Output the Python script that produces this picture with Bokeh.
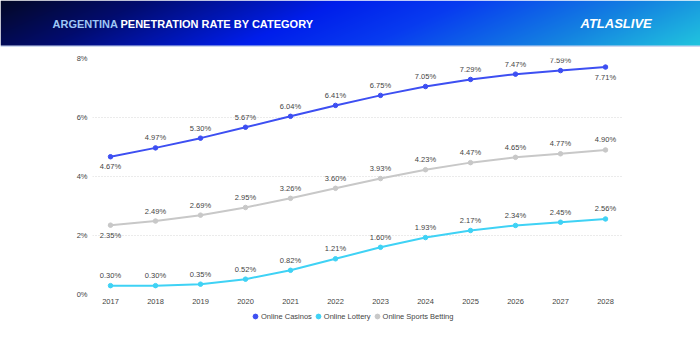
import numpy as np
from bokeh.plotting import figure
from bokeh.models import (ColumnDataSource, Range1d, FixedTicker, PrintfTickFormatter,
                          Legend, LegendItem)
from bokeh.layouts import column
from bokeh.embed import file_html
from bokeh.resources import INLINE
from bokeh.core.properties import value

# ---------------- data ----------------
years = [2017, 2018, 2019, 2020, 2021, 2022, 2023, 2024, 2025, 2026, 2027, 2028]
online_casinos = [4.67, 4.97, 5.30, 5.67, 6.04, 6.41, 6.75, 7.05, 7.29, 7.47, 7.59, 7.71]
online_lottery = [0.30, 0.30, 0.35, 0.52, 0.82, 1.21, 1.60, 1.93, 2.17, 2.34, 2.45, 2.56]
online_sports_betting = [2.35, 2.49, 2.69, 2.95, 3.26, 3.60, 3.93, 4.23, 4.47, 4.65, 4.77, 4.90]
series_names = ["Online Casinos", "Online Lottery", "Online Sports Betting"]
y_ticks = [0, 2, 4, 6, 8]
title_country = "ARGENTINA"
title_rest = "PENETRATION RATE BY CATEGORY"
brand = "ATLASLIVE"

# ---------------- style ----------------
series_colors = ["#3d4ff2", "#3fd2f5", "#c8c8c8"]
labels_below_years = {"Online Casinos": [2017, 2028], "Online Lottery": [],
                      "Online Sports Betting": [2017]}
FONT = "Liberation Sans"
TXT = "#444444"

# ---------------- header ----------------
HW, HH = 700, 47
hdr = figure(width=HW, height=HH, x_range=Range1d(0, HW), y_range=Range1d(0, HH),
             toolbar_location=None, output_backend="svg", min_border=0,
             x_axis_type=None, y_axis_type=None)
hdr.grid.visible = False
hdr.outline_line_color = None
hdr.frame_align = False

xs = np.arange(HW)[None, :] / HW
ys_top = (HH - 1 - np.arange(HH))[:, None] / HH  # 0 at top row
t = (xs + 0.15 * ys_top) / 1.15
stops = [0.0, 0.18, 0.42, 0.58, 0.8, 1.0]
r_st = [4, 2, 0, 8, 20, 34]
g_st = [8, 12, 30, 60, 130, 200]
b_st = [38, 110, 235, 240, 225, 222]
img = np.zeros((HH, HW), dtype=np.uint32)
view = img.view(dtype=np.uint8).reshape((HH, HW, 4))
view[:, :, 0] = np.interp(t, stops, r_st).astype(np.uint8)
view[:, :, 1] = np.interp(t, stops, g_st).astype(np.uint8)
view[:, :, 2] = np.interp(t, stops, b_st).astype(np.uint8)
view[:, :, 3] = 255
view[0:2, :, 0] = 205
view[0:2, :, 1] = 216
view[0:2, :, 2] = 240
hdr.image_rgba(image=[img], x=0, y=0, dw=HW, dh=HH)

hdr.text(x=[52], y=[24], text=[title_country], text_font=value(FONT),
         text_font_size="11px", text_font_style="bold", text_color="#9ec6f5",
         text_baseline="middle", text_align="left")
hdr.text(x=[120], y=[24], text=[title_rest], text_font=value(FONT),
         text_font_size="11px", text_font_style="bold", text_color="#ffffff",
         text_baseline="middle", text_align="left")
hdr.text(x=[580], y=[24], text=[brand], text_font=value(FONT),
         text_font_size="13px", text_font_style="bold italic", text_color="#ffffff",
         text_baseline="middle", text_align="left")

# ---------------- chart ----------------
CH = 261
p = figure(width=700, height=CH,
           x_range=Range1d(2016.6, 2016.6 + 530 / 45), y_range=Range1d(0, 8),
           toolbar_location=None, output_backend="svg",
           min_border_left=92, min_border_right=78, min_border_top=11, min_border_bottom=14)
p.frame_align = False
p.outline_line_color = None
p.xgrid.visible = False
p.ygrid.ticker = FixedTicker(ticks=y_ticks)
p.ygrid.grid_line_color = "#d6d6d6"
p.ygrid.grid_line_dash = "1 2"
p.yaxis.ticker = FixedTicker(ticks=y_ticks)
p.yaxis.formatter = PrintfTickFormatter(format="%d%%")
p.xaxis.ticker = FixedTicker(ticks=years)
for ax in (p.xaxis, p.yaxis):
    ax.axis_line_color = None
    ax.major_tick_line_color = None
    ax.minor_tick_line_color = None
    ax.major_tick_out = 0
    ax.major_tick_in = 0
    ax.major_label_text_font = FONT
    ax.major_label_text_font_size = "7.5px"
    ax.major_label_text_color = TXT
p.xaxis.major_label_standoff = 4
p.yaxis.major_label_standoff = 5

# ---------------- legend strip ----------------
LH = 350 - HH - CH
lf = figure(width=700, height=LH, x_range=Range1d(0, 700), y_range=Range1d(0, LH),
            toolbar_location=None, output_backend="svg", min_border=0,
            x_axis_type=None, y_axis_type=None)
lf.grid.visible = False
lf.outline_line_color = None
lf.frame_align = False

legend_items = []
for name, vals, col in zip(series_names,
                           [online_casinos, online_lottery, online_sports_betting],
                           series_colors):
    below = labels_below_years[name]
    src = ColumnDataSource(dict(
        x=years, y=vals,
        label=[f"{v:.2f}%" for v in vals],
        yoff=[10 if yr in below else -10 for yr in years],
    ))
    p.line("x", "y", source=src, line_color=col, line_width=2)
    p.scatter("x", "y", source=src, size=4.5, fill_color=col, line_color=col)
    p.text("x", "y", text="label", source=src, y_offset="yoff",
           text_font=value(FONT), text_font_size="7.5px", text_color=TXT,
           text_align="center", text_baseline="middle")
    # legend key marker (placed outside the visible strip range)
    key = lf.scatter(x=[-1000], y=[-1000], size=5, fill_color=col, line_color=col)
    legend_items.append(LegendItem(label=name, renderers=[key]))

legend = Legend(items=legend_items, orientation="horizontal", location=(249, 28),
                glyph_width=12, glyph_height=12, label_standoff=0, spacing=0,
                padding=0, margin=0, border_line_color=None, background_fill_alpha=0,
                label_height=12, label_text_font=FONT, label_text_font_size="7.5px",
                label_text_color=TXT)
lf.add_layout(legend)

layout = column(hdr, p, lf, spacing=0)
open("out.html", "w").write(file_html(layout, INLINE))
